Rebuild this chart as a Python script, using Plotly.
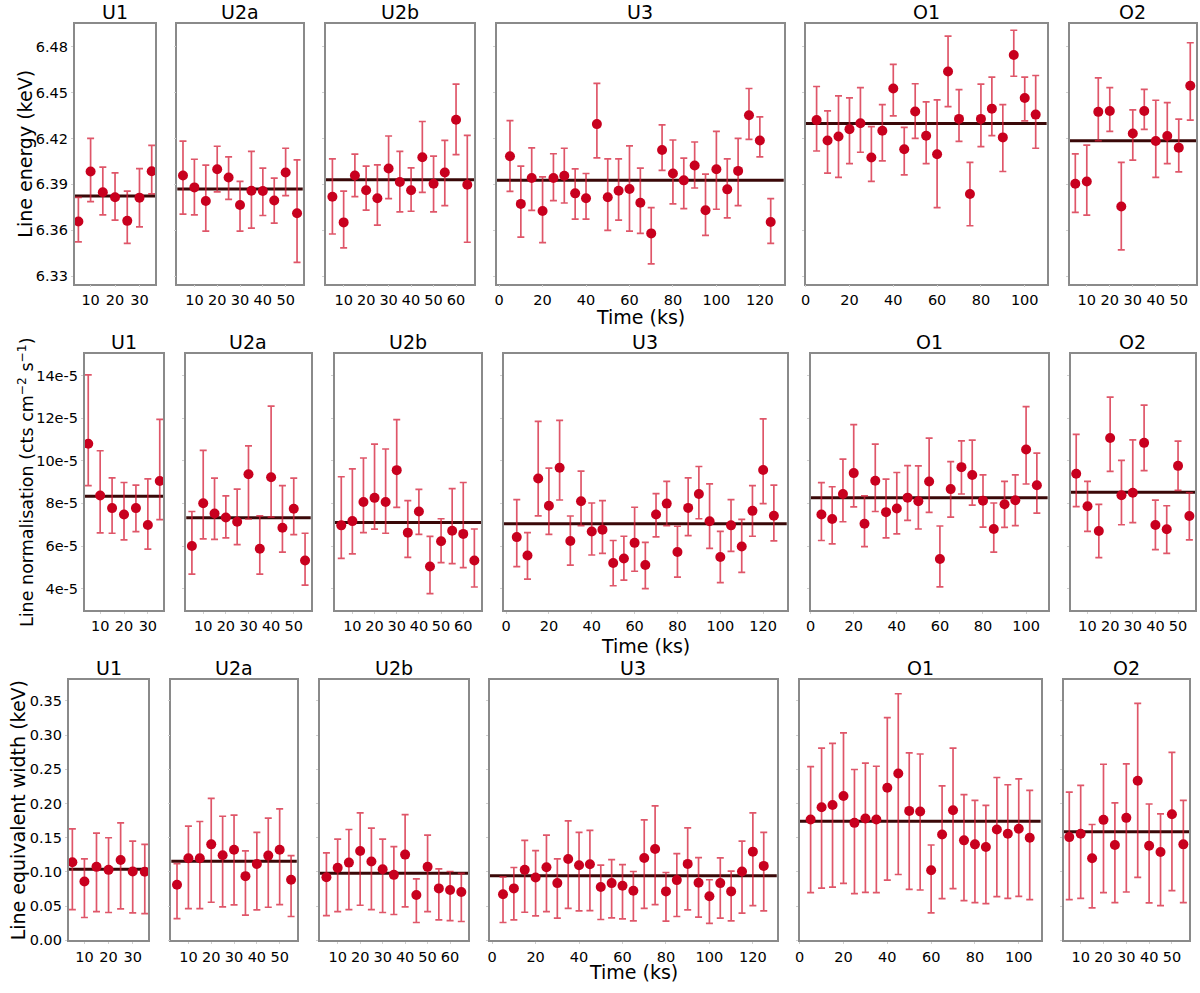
import plotly.graph_objects as go

W, H = 1200, 993
FONT = "DejaVu Sans"
OBS = ["U1", "U2a", "U2b", "U3", "O1", "O2"]

# observation times (ks)
time_U1 = [5, 10, 15, 20, 25, 30, 35]
time_U2a = [5, 10, 15, 20, 25, 30, 35, 40, 45, 50, 55]
time_U2b = [5, 10, 15, 20, 25, 30, 35, 40, 45, 50, 55, 60, 65]
time_U3 = [5, 10, 15, 20, 25, 30, 35, 40, 45, 50, 55, 60, 65, 70, 75, 80, 85,
           90, 95, 100, 105, 110, 115, 120, 125]
time_O1 = [5, 10, 15, 20, 25, 30, 35, 40, 45, 50, 55, 60, 65, 70, 75, 80, 85,
           90, 95, 100, 105]
time_O2 = [5, 10, 15, 20, 25, 30, 35, 40, 45, 50, 55]

# --- line energy (keV)
energy_U1 = [6.3657, 6.3984, 6.3848, 6.3815, 6.3661, 6.3813, 6.3986]
energy_U1_hi = [6.3815, 6.4200, 6.4012, 6.3975, 6.3856, 6.4003, 6.4155]
energy_U1_lo = [6.3523, 6.3787, 6.3700, 6.3666, 6.3514, 6.3622, 6.3837]
energy_U2a = [6.3958, 6.3880, 6.3791, 6.3999, 6.3945, 6.3765, 6.3858, 6.3856,
              6.3794, 6.3977, 6.3711]
energy_U2a_hi = [6.4183, 6.4064, 6.4025, 6.4149, 6.4079, 6.3919, 6.4116, 6.4006,
                 6.3941, 6.4136, 6.4060]
energy_U2a_lo = [6.3705, 6.3700, 6.3594, 6.3850, 6.3802, 6.3594, 6.3614, 6.3696,
                 6.3646, 6.3826, 6.3389]
energy_U2b = [6.3819, 6.3651, 6.3958, 6.3861, 6.3809, 6.4003, 6.3915, 6.3861,
              6.4077, 6.3904, 6.3977, 6.4322, 6.3897]
energy_U2b_hi = [6.4066, 6.3856, 6.4097, 6.4019, 6.4027, 6.4216, 6.4116, 6.4008,
                 6.4311, 6.4084, 6.4187, 6.4555, 6.4220]
energy_U2b_lo = [6.3575, 6.3484, 6.3819, 6.3731, 6.3633, 6.3806, 6.3720, 6.3724,
                 6.3848, 6.3720, 6.3761, 6.4094, 6.3521]
energy_U3 = [6.4084, 6.3772, 6.3941, 6.3726, 6.3941, 6.3956, 6.3841, 6.3809,
             6.4294, 6.3815, 6.3858, 6.3869, 6.3780, 6.3579, 6.4125, 6.3971,
             6.3926, 6.4023, 6.3731, 6.3999, 6.3867, 6.3988, 6.4352, 6.4187,
             6.3653]
energy_U3_hi = [6.4317, 6.4019, 6.4138, 6.3949, 6.4100, 6.4136, 6.4001, 6.3971,
                6.4560, 6.4066, 6.4066, 6.4151, 6.4006, 6.3748, 6.4289, 6.4190,
                6.4071, 6.4177, 6.3967, 6.4246, 6.4066, 6.4200, 6.4527, 6.4341,
                6.3806]
energy_U3_lo = [6.3854, 6.3555, 6.3729, 6.3519, 6.3794, 6.3778, 6.3672, 6.3672,
                6.4073, 6.3599, 6.3666, 6.3594, 6.3579, 6.3380, 6.3991, 6.3772,
                6.3741, 6.3876, 6.3566, 6.3737, 6.3681, 6.3761, 6.4194, 6.4079,
                6.3514]
energy_O1 = [6.4320, 6.4187, 6.4213, 6.4261, 6.4300, 6.4075, 6.4250, 6.4527,
             6.4129, 6.4376, 6.4218, 6.4097, 6.4638, 6.4328, 6.3837, 6.4328,
             6.4395, 6.4207, 6.4746, 6.4465, 6.4356]
energy_O1_hi = [6.4540, 6.4380, 6.4479, 6.4466, 6.4532, 6.4278, 6.4421, 6.4685,
                6.4272, 6.4558, 6.4439, 6.4452, 6.4869, 6.4519, 6.4043, 6.4555,
                6.4601, 6.4421, 6.4908, 6.4601, 6.4612]
energy_O1_lo = [6.4118, 6.3973, 6.3945, 6.4036, 6.4110, 6.3919, 6.4053, 6.4348,
                6.3962, 6.4200, 6.4036, 6.3748, 6.4408, 6.4181, 6.3629, 6.4146,
                6.4218, 6.3984, 6.4607, 6.4315, 6.4136]
energy_O2 = [6.3904, 6.3919, 6.4374, 6.4380, 6.3755, 6.4233, 6.4380, 6.4183,
             6.4216, 6.4140, 6.4545]
energy_O2_hi = [6.4099, 6.4157, 6.4597, 6.4532, 6.4043, 6.4387, 6.4521, 6.4450,
                6.4434, 6.4326, 6.4826]
energy_O2_lo = [6.3716, 6.3699, 6.4185, 6.4246, 6.3471, 6.4058, 6.4259, 6.3945,
                6.4036, 6.3982, 6.4320]
energy_mean = [6.3824, 6.3869, 6.3930, 6.3926, 6.4298, 6.4185]

# --- line normalisation (units of 1e-5 cts cm^-2 s^-1)
norm_U1 = [10.80, 8.37, 7.78, 7.48, 7.78, 6.99, 9.05]
norm_U1_hi = [14.03, 10.47, 9.20, 8.98, 8.86, 9.15, 11.94]
norm_U1_lo = [8.83, 6.62, 6.60, 6.29, 6.68, 5.86, 7.24]
norm_U2a = [6.00, 8.01, 7.53, 7.34, 7.14, 9.37, 5.87, 9.23, 6.86, 7.75, 5.32]
norm_U2a_hi = [7.62, 10.49, 9.19, 8.35, 8.67, 10.70, 7.42, 12.56, 8.83, 9.19, 6.60]
norm_U2a_lo = [4.68, 6.34, 6.31, 6.38, 6.07, 7.27, 4.68, 7.36, 5.72, 6.54, 4.17]
norm_U2b = [6.97, 7.17, 8.07, 8.26, 8.07, 9.56, 6.63, 7.62, 5.04, 6.23, 6.72,
            6.57, 5.32]
norm_U2b_hi = [9.25, 9.62, 10.13, 10.78, 10.55, 11.93, 8.13, 8.66, 6.45, 7.28,
               8.69, 8.98, 6.80]
norm_U2b_lo = [5.42, 5.63, 6.63, 6.79, 6.60, 7.81, 5.47, 6.55, 3.77, 5.22, 5.18,
               4.99, 4.08]
norm_U3 = [6.42, 5.56, 9.17, 7.89, 9.67, 6.24, 8.10, 6.68, 6.77, 5.21, 5.42,
           6.15, 5.11, 7.48, 7.99, 5.72, 7.79, 8.44, 7.16, 5.49, 6.97, 5.98,
           7.65, 9.57, 7.42]
norm_U3_hi = [8.18, 6.63, 11.85, 9.65, 11.89, 7.41, 9.51, 8.02, 8.13, 6.26, 6.46,
              7.82, 6.17, 8.46, 9.03, 6.93, 9.20, 9.73, 8.92, 6.69, 8.18, 7.25,
              8.83, 11.96, 8.86]
norm_U3_lo = [5.04, 4.45, 7.42, 6.55, 8.16, 5.11, 6.96, 5.58, 5.66, 4.14, 4.40,
              4.82, 4.00, 6.43, 6.96, 4.54, 6.49, 7.28, 5.89, 4.29, 5.75, 4.77,
              6.46, 7.99, 6.24]
norm_O1 = [7.48, 7.27, 8.44, 9.42, 7.05, 9.06, 7.59, 7.76, 8.27, 8.10, 9.03,
           5.39, 8.67, 9.70, 9.33, 8.13, 6.80, 7.96, 8.15, 10.53, 8.85]
norm_O1_hi = [8.97, 8.78, 10.08, 11.69, 8.35, 10.78, 9.14, 9.45, 9.77, 9.76,
              11.06, 6.94, 9.96, 10.93, 10.97, 9.34, 8.02, 9.03, 9.34, 12.54,
              10.36]
norm_O1_lo = [6.26, 6.10, 7.14, 7.84, 5.97, 7.62, 6.38, 6.57, 7.20, 6.80, 7.58,
              4.09, 7.36, 8.44, 7.92, 6.89, 5.72, 6.88, 6.96, 8.91, 7.54]
norm_O2 = [9.39, 7.87, 6.71, 11.07, 8.38, 8.50, 10.84, 6.99, 6.79, 9.76, 7.41]
norm_O2_hi = [11.24, 9.03, 7.95, 12.98, 10.02, 10.98, 12.61, 8.15, 7.89, 10.92,
              8.50]
norm_O2_lo = [7.85, 6.69, 5.46, 9.50, 7.00, 7.10, 9.54, 5.83, 5.66, 8.61, 6.29]
norm_mean = [8.33, 7.33, 7.11, 7.05, 8.26, 8.52]

# --- line equivalent width (keV)
ew_U1 = [0.1142, 0.0862, 0.1075, 0.1031, 0.1176, 0.1007, 0.1002]
ew_U1_hi = [0.1631, 0.1190, 0.1568, 0.1500, 0.1718, 0.1452, 0.1404]
ew_U1_lo = [0.0450, 0.0334, 0.0421, 0.0407, 0.0460, 0.0402, 0.0392]
ew_U2a = [0.0813, 0.1200, 0.1200, 0.1404, 0.1244, 0.1326, 0.0939, 0.1118,
          0.1239, 0.1326, 0.0886]
ew_U2a_hi = [0.1123, 0.1670, 0.1738, 0.2077, 0.1815, 0.1830, 0.1307, 0.1578,
             0.1786, 0.1922, 0.1239]
ew_U2a_lo = [0.0319, 0.0465, 0.0465, 0.0557, 0.0489, 0.0518, 0.0368, 0.0445,
             0.0484, 0.0523, 0.0349]
ew_U2b = [0.0924, 0.1060, 0.1137, 0.1307, 0.1152, 0.1041, 0.0958, 0.1254,
          0.0663, 0.1075, 0.0760, 0.0736, 0.0707]
ew_U2b_hi = [0.1278, 0.1481, 0.1621, 0.1864, 0.1641, 0.1481, 0.1370, 0.1839,
             0.0900, 0.1539, 0.1045, 0.1007, 0.0978]
ew_U2b_lo = [0.0363, 0.0421, 0.0450, 0.0513, 0.0450, 0.0407, 0.0378, 0.0489,
             0.0261, 0.0421, 0.0300, 0.0290, 0.0276]
ew_U3 = [0.0673, 0.0760, 0.1031, 0.0920, 0.1070, 0.0837, 0.1190, 0.1099,
         0.1113, 0.0779, 0.0837, 0.0799, 0.0726, 0.1205, 0.1336, 0.0716,
         0.0881, 0.1118, 0.0842, 0.0644, 0.0837, 0.0716, 0.1007, 0.1297,
         0.1089]
ew_U3_hi = [0.0929, 0.1065, 0.1462, 0.1312, 0.1539, 0.1190, 0.1747, 0.1578,
            0.1607, 0.1099, 0.1181, 0.1108, 0.1007, 0.1762, 0.1965, 0.0992,
            0.1268, 0.1646, 0.1210, 0.0886, 0.1205, 0.1012, 0.1452, 0.1864,
            0.1578]
ew_U3_lo = [0.0261, 0.0300, 0.0411, 0.0358, 0.0421, 0.0324, 0.0469, 0.0431,
            0.0436, 0.0305, 0.0329, 0.0315, 0.0286, 0.0469, 0.0523, 0.0281,
            0.0349, 0.0445, 0.0339, 0.0247, 0.0324, 0.0286, 0.0397, 0.0508,
            0.0431]
ew_O1 = [0.1767, 0.1946, 0.1980, 0.2110, 0.1718, 0.1781, 0.1767, 0.2231,
         0.2439, 0.1893, 0.1883, 0.1026, 0.1549, 0.1902, 0.1462, 0.1404,
         0.1365, 0.1621, 0.1559, 0.1631, 0.1500]
ew_O1_hi = [0.2541, 0.2812, 0.2880, 0.3035, 0.2498, 0.2590, 0.2546, 0.3257,
            0.3606, 0.2740, 0.2725, 0.1394, 0.2260, 0.2812, 0.2130, 0.2047,
            0.1975, 0.2381, 0.2275, 0.2362, 0.2192]
ew_O1_lo = [0.0697, 0.0765, 0.0779, 0.0833, 0.0682, 0.0702, 0.0697, 0.0881,
            0.0963, 0.0745, 0.0736, 0.0402, 0.0610, 0.0755, 0.0581, 0.0552,
            0.0537, 0.0639, 0.0615, 0.0644, 0.0595]
ew_O2 = [0.1510, 0.1559, 0.1200, 0.1762, 0.1394, 0.1791, 0.2333, 0.1384,
         0.1292, 0.1844, 0.1404]
ew_O2_hi = [0.2168, 0.2265, 0.1694, 0.2575, 0.2009, 0.2580, 0.3466, 0.1994,
            0.1849, 0.2749, 0.2047]
ew_O2_lo = [0.0595, 0.0615, 0.0474, 0.0697, 0.0552, 0.0707, 0.0920, 0.0547,
            0.0508, 0.0726, 0.0552]
ew_mean = [0.1041, 0.1157, 0.0983, 0.0944, 0.1742, 0.1588]

energy_ticks = [6.33, 6.36, 6.39, 6.42, 6.45, 6.48]
norm_ticks = [4, 6, 8, 10, 12, 14]
norm_ticktext = ["4e-5", "6e-5", "8e-5", "10e-5", "12e-5", "14e-5"]
ew_ticks = [0.00, 0.05, 0.10, 0.15, 0.20, 0.25, 0.30, 0.35]

times = [time_U1, time_U2a, time_U2b, time_U3, time_O1, time_O2]
rows = [
    dict(
        vals=[energy_U1, energy_U2a, energy_U2b, energy_U3, energy_O1, energy_O2],
        hi=[energy_U1_hi, energy_U2a_hi, energy_U2b_hi, energy_U3_hi,
            energy_O1_hi, energy_O2_hi],
        lo=[energy_U1_lo, energy_U2a_lo, energy_U2b_lo, energy_U3_lo,
            energy_O1_lo, energy_O2_lo],
        mean=energy_mean,
        yrange=[6.325, 6.495],
        tickvals=energy_ticks,
        ticktext=[f"{t:.2f}" for t in energy_ticks],
        ytitle="Line energy (keV)",
        ytitle_size=19,
        ytitle_x=20,
    ),
    dict(
        vals=[norm_U1, norm_U2a, norm_U2b, norm_U3, norm_O1, norm_O2],
        hi=[norm_U1_hi, norm_U2a_hi, norm_U2b_hi, norm_U3_hi, norm_O1_hi,
            norm_O2_hi],
        lo=[norm_U1_lo, norm_U2a_lo, norm_U2b_lo, norm_U3_lo, norm_O1_lo,
            norm_O2_lo],
        mean=norm_mean,
        yrange=[3, 15],
        tickvals=norm_ticks,
        ticktext=norm_ticktext,
        ytitle="Line normalisation (cts cm<sup>\u22122</sup> s<sup>\u22121</sup>)",
        ytitle_size=17.5,
        ytitle_x=21,
    ),
    dict(
        vals=[ew_U1, ew_U2a, ew_U2b, ew_U3, ew_O1, ew_O2],
        hi=[ew_U1_hi, ew_U2a_hi, ew_U2b_hi, ew_U3_hi, ew_O1_hi, ew_O2_hi],
        lo=[ew_U1_lo, ew_U2a_lo, ew_U2b_lo, ew_U3_lo, ew_O1_lo, ew_O2_lo],
        mean=ew_mean,
        yrange=[0, 0.38],
        tickvals=ew_ticks,
        ticktext=[f"{t:.2f}" for t in ew_ticks],
        ytitle="Line equivalent width (keV)",
        ytitle_size=19,
        ytitle_x=13,
    ),
]

# panel boxes in pixels
ROW_Y = [(24, 286), (357, 615), (686, 948)]
ROW_X = [
    [(70, 151), (173, 299), (322, 471), (494, 782), (804, 1046), (1069, 1196)],
    [(80, 159), (182, 307), (331, 478), (501, 785), (809, 1047), (1070, 1195)],
    [(64, 144), (167, 293), (316, 465), (487, 775), (798, 1040), (1063, 1189)],
]
# vertical spot for "Time (ks)" under each row (last row sits on the page bottom)
TIME_LABEL_Y = [320, 651, 993]
TIME_LABEL_ANCHOR = ["middle", "middle", "bottom"]
X_RANGE = [[3.5, 36.5], [2.5, 57.5], [2, 68], [-1, 131], [0, 110], [2.5, 57.5]]
X_TICKS = [
    [10, 20, 30],
    [10, 20, 30, 40, 50],
    [10, 20, 30, 40, 50, 60],
    [0, 20, 40, 60, 80, 100, 120],
    [0, 20, 40, 60, 80, 100],
    [10, 20, 30, 40, 50],
]

MARKER = "#c8001e"
ERRBAR = "rgba(212, 30, 55, 0.75)"
MEANLINE = "#3a0808"
FRAME = "#8a8a8a"

fig = go.Figure()
layout = {}
annotations = []
shapes = []

k = 0
for r, row in enumerate(rows):
    y0, y1 = ROW_Y[r]
    for c, name in enumerate(OBS):
        k += 1
        x0, x1 = ROW_X[r][c]
        xa = "x" if k == 1 else f"x{k}"
        ya = "y" if k == 1 else f"y{k}"
        vals, hi, lo = row["vals"][c], row["hi"][c], row["lo"][c]

        fig.add_trace(
            go.Scatter(
                x=times[c],
                y=vals,
                mode="markers",
                marker=dict(color=MARKER, size=10),
                error_y=dict(
                    type="data",
                    symmetric=False,
                    array=[h - v for h, v in zip(hi, vals)],
                    arrayminus=[v - l for v, l in zip(vals, lo)],
                    color=ERRBAR,
                    thickness=1.7,
                    width=3.5,
                ),
                xaxis=xa,
                yaxis=ya,
                showlegend=False,
            )
        )

        shapes.append(
            dict(
                type="line",
                xref=f"{xa} domain",
                yref=ya,
                x0=0,
                x1=1,
                y0=row["mean"][c],
                y1=row["mean"][c],
                line=dict(color=MEANLINE, width=3),
                layer="below",
            )
        )

        axis_common = dict(
            showline=True,
            mirror=True,
            linecolor=FRAME,
            linewidth=1.5,
            showgrid=False,
            zeroline=False,
            ticks="outside",
            ticklen=2,
            tickcolor="#d0d0d0",
            tickangle=0,
            tickfont=dict(family=FONT, size=14.5, color="black"),
        )
        layout["xaxis" if k == 1 else f"xaxis{k}"] = dict(
            axis_common,
            domain=[x0 / W, x1 / W],
            range=X_RANGE[c],
            tickvals=X_TICKS[c],
            anchor=ya,
        )
        layout["yaxis" if k == 1 else f"yaxis{k}"] = dict(
            axis_common,
            domain=[1 - y1 / H, 1 - y0 / H],
            range=row["yrange"],
            tickvals=row["tickvals"],
            ticktext=row["ticktext"],
            showticklabels=(c == 0),
            anchor=xa,
        )

        annotations.append(
            dict(
                text=name,
                xref="paper",
                yref="paper",
                x=(x0 + x1) / 2 / W,
                y=1 - y0 / H,
                xanchor="center",
                yanchor="bottom",
                yshift=-1,
                showarrow=False,
                font=dict(family=FONT, size=19, color="black"),
            )
        )

    # y axis title for the row
    annotations.append(
        dict(
            text=row["ytitle"],
            xref="paper",
            yref="paper",
            x=row["ytitle_x"] / W,
            y=1 - (y0 + y1) / 2 / H,
            xanchor="center",
            yanchor="middle",
            textangle=-90,
            showarrow=False,
            font=dict(family=FONT, size=row["ytitle_size"], color="black"),
        )
    )
    # x axis title under U3
    ux0, ux1 = ROW_X[r][3]
    annotations.append(
        dict(
            text="Time (ks)",
            xref="paper",
            yref="paper",
            x=(ux0 + ux1) / 2 / W,
            y=1 - TIME_LABEL_Y[r] / H,
            xanchor="center",
            yanchor=TIME_LABEL_ANCHOR[r],
            showarrow=False,
            font=dict(family=FONT, size=19, color="black"),
        )
    )

fig.update_layout(
    **layout,
    width=W,
    height=H,
    margin=dict(l=0, r=0, t=0, b=0),
    paper_bgcolor="white",
    plot_bgcolor="white",
    annotations=annotations,
    shapes=shapes,
    font=dict(family=FONT),
)

fig.write_html(
    "out.html",
    config={"displayModeBar": False},
    post_script="document.body.style.margin='0';document.body.style.overflow='hidden';",
)
